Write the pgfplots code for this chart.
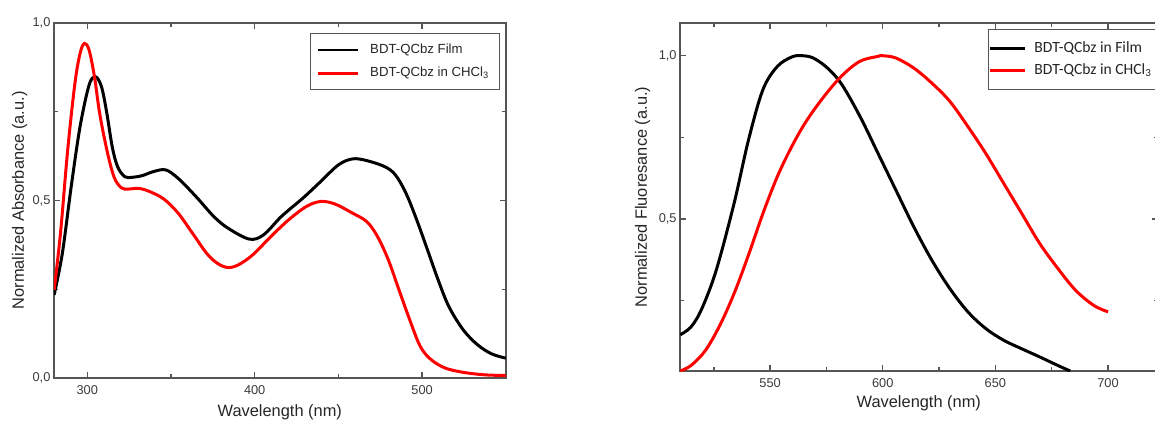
\documentclass[border=0pt]{standalone}
\usepackage{fontspec}
\setmainfont{Liberation Sans}
\newfontfamily\calibri{Carlito}
\usepackage{pgfplots}
\pgfplotsset{compat=1.18}
\definecolor{axisgray}{HTML}{555555}
\definecolor{ticktext}{HTML}{3A3A3A}
\definecolor{labeltext}{HTML}{262626}

\pgfplotsset{
  specaxis/.style={
    scale only axis,
    axis line style={axisgray, line width=0.9pt},
    every tick/.style={axisgray, line width=0.7pt},
    major tick length=3pt, minor tick length=2pt,
    tick align=inside, xtick pos=both, ytick pos=both,
    ticklabel style={font=\fontsize{6.4}{7.6}\selectfont, text=ticktext},
    yticklabel style={inner xsep=1.5pt},
    label style={font=\fontsize{8.2}{9.8}\selectfont, text=labeltext},
    every axis plot/.append style={line width=1.5pt, smooth, tension=0.55},
  },
}

\begin{document}
\begin{tikzpicture}
% ---- absorbance ----
\begin{axis}[specaxis,
  at={(26.9pt,21pt)}, anchor=south west,
  width=226pt, height=177.6pt,
  xmin=280, xmax=550, ymin=0, ymax=1,
  xtick={300,400,500}, xticklabels={300,400,500},
  minor xtick={350,450},
  ytick={0,0.5,1}, yticklabels={{0,0},{0,5},{1,0}},
  minor ytick={0.25,0.75},
  xlabel={Wavelength (nm)}, ylabel={Normalized Absorbance (a.u.)},
  xlabel style={at={(axis description cs:0.5,-0.0958)}, anchor=center},
  ylabel style={at={(axis description cs:-0.0757,0.5)}, anchor=center},
  legend image code/.code={\draw[#1, line width=1.4pt] (0pt,0pt) -- (20pt,0pt); \path (23.5pt,0pt);},
  legend style={at={(0.987,0.971)}, anchor=north east, draw=axisgray, line width=0.6pt,
    font=\fontsize{6.6}{7.9}\selectfont, text=labeltext, inner xsep=3pt, inner ysep=3pt,
    row sep=1.5pt, cells={anchor=west}},
]
\addplot[black] coordinates {
(280.2,0.234)(285.1,0.351)(290.4,0.539)(295.7,0.708)(301.1,0.825)(304.9,0.848)
(308.5,0.820)(311.7,0.745)(314.9,0.651)(318.1,0.595)(322.3,0.567)(326.6,0.565)
(333.0,0.570)(339.4,0.581)(346.8,0.586)(354.3,0.562)(364.9,0.511)(375.5,0.455)
(384.0,0.422)(396.8,0.391)(405.3,0.403)(416.0,0.455)(428.7,0.506)(439.4,0.553)
(450.0,0.600)(458.5,0.617)(467.0,0.612)(477.7,0.595)(484.0,0.572)(490.4,0.520)
(496.8,0.445)(503.2,0.361)(509.6,0.276)(516.0,0.201)(524.5,0.136)(533.0,0.094)
(541.5,0.068)(550.0,0.056)};
\addlegendentry{BDT-QCbz Film}
\addplot[red] coordinates {
(280.2,0.248)(284.0,0.408)(288.3,0.642)(292.6,0.829)(295.7,0.914)(298.3,0.942)
(301.1,0.923)(304.3,0.848)(307.4,0.745)(311.7,0.642)(315.9,0.567)(320.2,0.536)
(324.5,0.532)(330.9,0.534)(337.2,0.525)(345.7,0.504)(354.3,0.464)(362.8,0.408)
(371.3,0.351)(377.7,0.323)(384.0,0.311)(390.4,0.319)(398.9,0.347)(409.6,0.398)
(420.2,0.445)(430.9,0.483)(439.4,0.497)(447.9,0.490)(458.5,0.464)(467.0,0.440)
(473.4,0.398)(479.8,0.333)(486.2,0.248)(492.6,0.164)(498.9,0.089)(505.3,0.052)
(513.8,0.028)(524.5,0.016)(537.2,0.009)(550.0,0.007)};
\addlegendentry{BDT-QCbz in CHCl\textsubscript{3}}
\end{axis}
% ---- fluorescence ----
\begin{axis}[specaxis,
  at={(340pt,24.5pt)}, anchor=south west,
  width=238.8pt, height=174pt,
  xmin=510, xmax=722, ymin=0.035, ymax=1.10,
  xtick={550,600,650,700}, xticklabels={550,600,650,700},
  minor xtick={525,575,625,675},
  ytick={0.5,1}, yticklabels={{0,5},{1,0}},
  minor ytick={0.25,0.75},
  xlabel={Wavelength (nm)}, ylabel={Normalized Fluoresance (a.u.)},
  xlabel style={at={(axis description cs:0.5,-0.092)}, anchor=center},
  ylabel style={at={(axis description cs:-0.0785,0.5)}, anchor=center},
  legend image code/.code={\draw[#1, line width=1.4pt] (0pt,0pt) -- (17.5pt,0pt); \path (19.5pt,0pt);},
  legend style={at={(0.6448,0.983)}, anchor=north west, draw=axisgray, line width=0.6pt,
    font=\calibri\fontsize{7.8}{9.4}\selectfont, text=labeltext, inner xsep=0pt, inner ysep=4pt,
    row sep=0pt, cells={anchor=west}},
]
\addplot[black] coordinates {
(510.1,0.146)(514.9,0.170)(519.7,0.226)(526.1,0.344)(534.0,0.548)(540.4,0.742)
(546.8,0.896)(553.2,0.967)(559.6,0.996)(564.0,1.000)(569.1,0.993)(575.5,0.962)
(581.9,0.911)(589.9,0.814)(597.9,0.701)(605.8,0.589)(613.8,0.476)(621.8,0.374)
(629.8,0.287)(637.8,0.216)(645.7,0.165)(653.7,0.129)(661.7,0.103)(669.7,0.078)
(677.7,0.052)(683.2,0.035)};
\addlegendentry{BDT-QCbz in Film}
\addplot[red] coordinates {
(510.1,0.035)(514.9,0.052)(521.3,0.098)(527.7,0.175)(534.0,0.272)(540.4,0.390)
(546.8,0.517)(553.2,0.630)(559.6,0.722)(566.0,0.799)(573.9,0.875)(581.9,0.939)
(589.9,0.983)(597.9,0.998)(599.8,1.000)(605.8,0.993)(613.8,0.962)(621.8,0.916)
(629.8,0.860)(637.8,0.783)(645.7,0.701)(653.7,0.609)(661.7,0.517)(669.7,0.425)
(677.7,0.349)(685.6,0.282)(693.6,0.236)(700.0,0.216)};
\addlegendentry{BDT-QCbz in CHCl\textsubscript{3}}
\end{axis}
\pgfresetboundingbox
\path[use as bounding box] (0,0) rectangle (577.5pt,210pt);
\end{tikzpicture}
\end{document}
